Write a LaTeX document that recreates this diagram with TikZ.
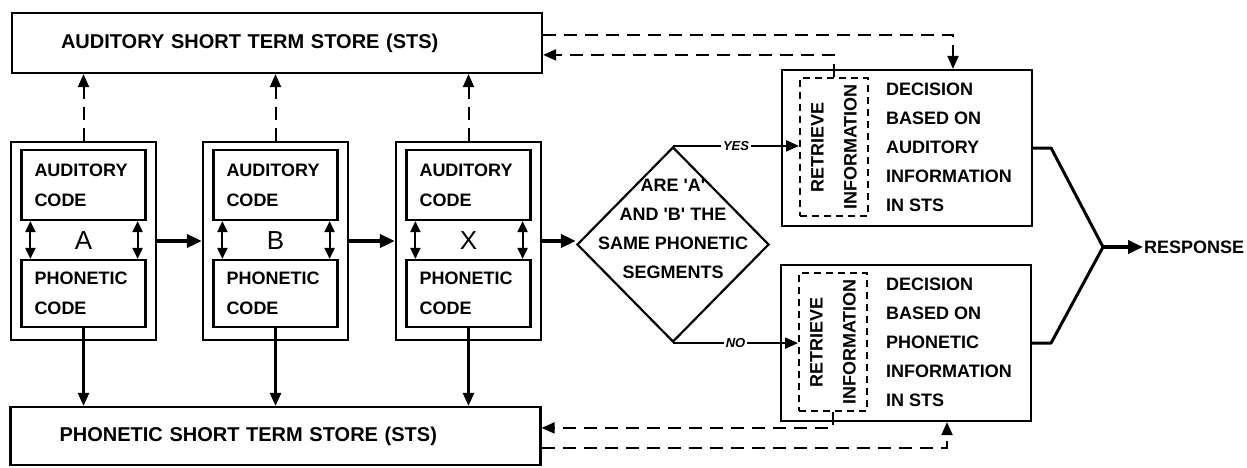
\documentclass[tikz,border=0pt]{standalone}
\usepackage{fontspec}
\setmainfont{Liberation Sans}
\usetikzlibrary{positioning,arrows.meta,shapes.geometric,calc}

\begin{document}
\begin{tikzpicture}[
  x=1pt, y=-1pt,
  font=\fontsize{18}{30}\selectfont\bfseries,
  store/.style={rectangle, draw, line width=2.2pt, minimum height=60pt, text width=432pt, inner xsep=49pt, align=left, font=\fontsize{20}{24}\selectfont\bfseries},
  stage/.style={rectangle, draw, line width=2.2pt, minimum width=145pt, minimum height=198pt},
  code/.style={rectangle, draw, line width=2.2pt, text width=98pt, inner xsep=13pt, align=left},
  letter/.style={font=\fontsize{26}{26}\selectfont},
  decision/.style={rectangle, draw, line width=2.2pt, minimum width=250pt, minimum height=156pt},
  retrieve/.style={rectangle, draw, line width=2pt, dash pattern=on 7pt off 5pt, minimum width=68pt, minimum height=138pt},
  rot/.style={rotate=90, align=center, font=\fontsize{18}{33}\selectfont\bfseries},
  dtext/.style={align=left, inner sep=0pt, font=\fontsize{18}{29}\selectfont\bfseries},
  answer/.style={fill=white, inner sep=2pt, font=\fontsize{13}{13}\selectfont\bfseries\itshape},
  arr/.style={-{Triangle[length=13pt, width=11pt]}, line width=2.4pt},
  dblarr/.style={{Triangle[length=11pt, width=10pt]}-{Triangle[length=11pt, width=10pt]}, line width=2pt},
  fat/.style={-{Triangle[length=15pt, width=13pt]}, line width=4.5pt},
  dasharr/.style={-{Triangle[length=13pt, width=11pt]}, line width=2pt, dash pattern=on 13pt off 8pt},
  merge/.style={line width=3pt, line join=round},
]
\useasboundingbox (0,0) rectangle (1247,467);

\node[store] (asts) at (277,43) {AUDITORY SHORT TERM STORE (STS)};
\node[store, minimum height=58pt] (psts) at (275.5,436) {PHONETIC SHORT TERM STORE (STS)};

% stage A
\node[stage] (stA) at (83.5,241) {};
\node[code, minimum height=70pt] (audA) at (83.5,185) {AUDITORY\\CODE};
\node[code, minimum height=67pt] (phA) at (83.5,293.5) {PHONETIC\\CODE};
\node[letter] (labA) at (83.5,241) {A};
\draw[dblarr] ([xshift=10pt]audA.south west) -- ([xshift=10pt]phA.north west);
\draw[dblarr] ([xshift=-9pt]audA.south east) -- ([xshift=-9pt]phA.north east);
\draw[dasharr] (stA.north) -- (stA.north |- asts.south);
\draw[arr] (phA.south) -- (phA.south |- psts.north);

% stage B
\node[stage] (stB) at (275.5,241) {};
\node[code, minimum height=70pt] (audB) at (275.5,185) {AUDITORY\\CODE};
\node[code, minimum height=67pt] (phB) at (275.5,293.5) {PHONETIC\\CODE};
\node[letter] (labB) at (275.5,241) {B};
\draw[dblarr] ([xshift=10pt]audB.south west) -- ([xshift=10pt]phB.north west);
\draw[dblarr] ([xshift=-9pt]audB.south east) -- ([xshift=-9pt]phB.north east);
\draw[dasharr] (stB.north) -- (stB.north |- asts.south);
\draw[arr] (phB.south) -- (phB.south |- psts.north);

% stage X
\node[stage] (stX) at (468.5,241) {};
\node[code, minimum height=70pt] (audX) at (468.5,185) {AUDITORY\\CODE};
\node[code, minimum height=67pt] (phX) at (468.5,293.5) {PHONETIC\\CODE};
\node[letter] (labX) at (468.5,241) {X};
\draw[dblarr] ([xshift=10pt]audX.south west) -- ([xshift=10pt]phX.north west);
\draw[dblarr] ([xshift=-9pt]audX.south east) -- ([xshift=-9pt]phX.north east);
\draw[dasharr] (stX.north) -- (stX.north |- asts.south);
\draw[arr] (phX.south) -- (phX.south |- psts.north);

\draw[fat] (stA.east) -- (stB.west);
\draw[fat] (stB.east) -- (stX.west);

% comparison
\node[diamond, draw, line width=2.2pt, minimum width=192pt, minimum height=195pt, inner sep=0pt] (dia) at (673,244.5) {};
\node[align=center, font=\fontsize{18}{29}\selectfont\bfseries] (diatxt) at (673,229) {ARE \textquotesingle A\textquotesingle\\AND \textquotesingle B\textquotesingle{} THE\\SAME PHONETIC\\SEGMENTS};
\draw[fat] (stX.east) -- (stX.east -| dia.west);

% decisions
\node[decision] (dA) at (907,148) {};
\node[decision] (dP) at (906,343) {};
\node[retrieve] (rA) at (834,147) {};
\node[retrieve] (rP) at (833,342) {};
\node[rot] (rAtxt) at (rA) {RETRIEVE\\INFORMATION};
\node[rot] (rPtxt) at (rP) {RETRIEVE\\INFORMATION};
\node[dtext, right=17pt of rA] (dAtxt) {DECISION\\BASED ON\\AUDITORY\\INFORMATION\\IN STS};
\node[dtext, right=18pt of rP] (dPtxt) {DECISION\\BASED ON\\PHONETIC\\INFORMATION\\IN STS};

\draw[arr, line width=2pt] (dia.north) -- (dia.north -| rA.west) node[answer, pos=0.5] {YES};
\draw[arr, line width=2pt] (dia.south) -- (dia.south -| rP.west) node[answer, pos=0.5] {NO};

\coordinate (aout) at ([yshift=-23pt]asts.north east);
\coordinate (ain) at ([yshift=-43pt]asts.north east);
\coordinate (pin) at ([yshift=-22pt]psts.north east);
\coordinate (pout) at ([yshift=-42pt]psts.north east);
\draw[dasharr] (aout) -| ([xshift=46pt]dA.north);
\draw[dasharr] (rA.north) |- (ain);
\draw[dasharr] (rP.south) |- (pin);
\draw[dasharr] (pout) -| ([xshift=41pt]dP.south);

% response
\coordinate (join) at (1103,247);
\node[anchor=west, inner sep=1pt] (resp) at (1143,247) {RESPONSE};
\draw[merge] (dA.east) -- ++(18,0) -- (join);
\draw[merge] (dP.east) -- ++(19,0) -- (join);
\draw[fat] (join) -- (resp.west);
\end{tikzpicture}
\end{document}
